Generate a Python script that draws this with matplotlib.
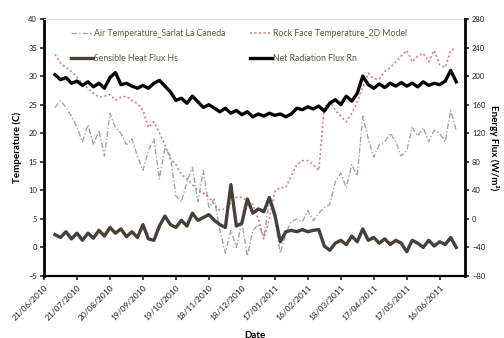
import numpy as np
import pandas as pd
import matplotlib
matplotlib.use("Agg")
import matplotlib.pyplot as plt
import matplotlib.dates as mdates

plt.rcParams["font.family"] = ["Lato", "DejaVu Sans"]

# ---------------- data (5-day samples, Jul 2010 - Jul 2011) ----------------
dates = pd.date_range("2010-07-01", periods=74, freq="5D")

air_temp = [24.5, 25.7, 24.5, 23, 21, 18.5, 21.5, 18, 20.5, 16,
            23.5, 21, 20, 18, 19, 16, 13.5, 17, 19, 12,
            17.5, 16, 9, 8, 11.5, 14, 8, 13.5, 7, 8.5,
            3, -1, 3, 0, 4.5, -1.5, 3, 4, 1.8, 8,
            5, -1, 2.5, 4.5, 5, 4.5, 6.5, 4.7, 6, 7,
            7.5, 11.5, 13, 10.5, 14.5, 12.5, 23, 19, 15.8, 18,
            18.5, 20, 18.5, 16, 17, 21, 19.5, 21, 18.5, 20.5,
            20, 18.5, 24, 20.5]

rock_temp = [33.8, 32.3, 31.5, 30.8, 29.8, 28.7, 27.8, 27, 26.3, 26.5,
             26.8, 25.8, 26.3, 26.5, 25.7, 25.2, 24, 21, 22, 20,
             18, 15.5, 14.5, 12.8, 12, 11, 10, 9.5, 8.8, 7.5,
             6.5, 6.8, 7.8, 8.8, 8.8, 8.2, 7.5, 5, 1.5, 5,
             9.8, 10.5, 10.5, 12.5, 14.5, 15.2, 15.2, 14.5, 13.5, 24.5,
             25.5, 24, 23, 22, 23.5, 25.5, 28, 30.5, 29.5, 29.5,
             30.8, 31.5, 32.5, 33.5, 34.5, 32.5, 33.5, 34, 32.5, 34.5,
             32, 31.5, 34.5, 35]

hs_flux = [-22, -26, -18, -28, -20, -30, -20, -27, -16, -24,
           -12, -20, -14, -25, -18, -26, -8, -28, -30, -10,
           4, -8, -12, -2, -10, 8, -2, 2, 6, -2,
           -8, -12, 48, -10, -6, 28, 8, 14, 10, 30,
           6, -32, -18, -16, -18, -15, -18, -16, -15, -38,
           -44, -34, -30, -36, -24, -32, -14, -30, -26, -34,
           -28, -36, -30, -34, -46, -30, -34, -40, -30, -38,
           -32, -36, -26, -40]

rn_flux = [202, 195, 198, 190, 193, 187, 192, 185, 190, 183,
           198, 205, 188, 190, 186, 183, 187, 183, 190, 194,
           186, 178, 166, 169, 162, 172, 164, 156, 160, 155,
           150, 155, 148, 152, 146, 150, 143, 147, 144, 148,
           145, 147, 143, 147, 155, 153, 157, 154, 158, 151,
           162, 167, 160, 172, 165, 176, 200, 188, 183, 189,
           184, 190, 186, 191, 186, 190, 185, 192, 187, 190,
           188, 193, 208, 192]

tick_dates = pd.date_range("2010-06-21", periods=13, freq="30D")

# ---------------- figure ----------------
fig = plt.figure(figsize=(5.04, 3.38), dpi=100)
ax = fig.add_axes([0.0873, 0.1834, 0.8353, 0.7604])
ax2 = ax.twinx()

l_air, = ax.plot(dates, air_temp, color="#9aa9b0", lw=1.0, ls=(0, (4, 1.5, 1, 1.5)),
                 label="Air Temperature_Sarlat La Caneda")
l_rock, = ax.plot(dates, rock_temp, color="#e07a78", lw=1.2, ls=(0, (1.2, 1.5)),
                  label="Rock Face Temperature_2D Model")
l_hs, = ax2.plot(dates, hs_flux, color="#46403b", lw=2.4,
                 label="Sensible Heat Flux Hs")
l_rn, = ax2.plot(dates, rn_flux, color="#000000", lw=2.4,
                 label="Net Radiation Flux Rn")

ax.set_xlim(pd.Timestamp("2010-06-21"), pd.Timestamp("2011-07-09"))
ax.set_ylim(-5, 40)
ax2.set_ylim(-80, 280)
ax.set_yticks(np.arange(-5, 41, 5))
ax2.set_yticks(np.arange(-80, 281, 40))

ax.set_xticks(tick_dates)
ax.xaxis.set_major_formatter(mdates.DateFormatter("%d/%m/%Y"))

for a in (ax, ax2):
    a.tick_params(labelsize=5.5, colors="#222222", length=3, width=1.2, pad=2)
    for s in a.spines.values():
        s.set_visible(False)
ax.tick_params(axis="x", labelsize=6, pad=3)
plt.setp(ax.get_xticklabels(), rotation=45, ha="right", rotation_mode="anchor")

ax.spines["left"].set_visible(True)
ax.spines["left"].set_linewidth(2)
ax.spines["bottom"].set_visible(True)
ax.spines["bottom"].set_linewidth(1.6)
ax.spines["top"].set_visible(True)
ax.spines["top"].set_color("#dddddd")
ax2.spines["right"].set_visible(True)
ax2.spines["right"].set_linewidth(2)

ax.set_ylabel("Temperature (C)", fontsize=7, fontweight="bold", labelpad=4)
ax2.set_ylabel("Energy Flux (W/m²)", fontsize=7, fontweight="bold",
               rotation=-90, labelpad=10)
ax.set_xlabel("Date", fontsize=7, fontweight="bold", labelpad=6)

leg = ax.legend(handles=[l_air, l_hs, l_rock, l_rn], ncol=2, frameon=False,
                loc="upper left", bbox_to_anchor=(0.045, 0.99), fontsize=6.3,
                handlelength=2.5, handletextpad=0.1, columnspacing=2.9,
                labelspacing=1.8)
for t in leg.get_texts():
    t.set_color("#5a5a48")

fig.savefig("out.png", dpi=100)
